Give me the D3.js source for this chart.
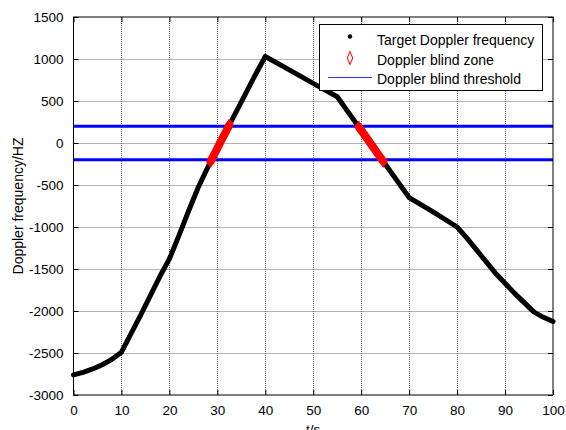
<!DOCTYPE html>
<html><head><meta charset="utf-8">
<script src="https://cdn.jsdelivr.net/npm/d3@7"></script>
<style>
html,body{margin:0;padding:0;background:#fff;}
text{font-family:"Liberation Sans",Arial,sans-serif;fill:#000;}
</style></head>
<body>
<svg id="chart" width="566" height="430"></svg>
<script>
// ---- data ----
const timeValues = [0,2,4,6,8,10,12,14,16,18,20,22,24,26,28,30,32,34,36,38,40,45,50,55,60,65,70,75,80,82,84,86,88,90,92,94,96,98,100];
const freqValues = [-2760,-2730,-2690,-2640,-2575,-2490,-2270,-2050,-1820,-1590,-1380,-1100,-810,-530,-290,-60,160,380,600,820,1030,870,710,550,150,-250,-650,-820,-1000,-1130,-1270,-1410,-1550,-1670,-1790,-1900,-2010,-2075,-2125];
const blindZone1T = [28.6,29.3,29.9,30.5,31.1,31.7,32.5];
const blindZone1F = [-220,-140,-75,-5,60,125,215];
const blindZone2T = [59.5,60.4,61.2,62.0,62.8,63.6,64.6];
const blindZone2F = [190,120,55,-10,-75,-140,-220];
const thresholdValues = [200,-200];
const xTicks = [0,10,20,30,40,50,60,70,80,90,100];
const yTicks = [-3000,-2500,-2000,-1500,-1000,-500,0,500,1000,1500];
const legendLabels = ["Target Doppler frequency","Doppler blind zone","Doppler blind threshold"];
const xLabel = "t/s";
const yLabel = "Doppler frequency/HZ";

// ---- layout ----
const L = 73.5, R = 553, T = 17, B = 395;
const svg = d3.select("#chart");
const x = d3.scaleLinear().domain([0,100]).range([L,R]);
const y = d3.scaleLinear().domain([-3000,1500]).range([B,T]);

// grid
const grid = svg.append("g").attr("stroke","#666").attr("stroke-width",1).attr("stroke-dasharray","1,1");
grid.selectAll("line.gx").data(xTicks.slice(1,-1)).join("line")
  .attr("x1",d=>Math.round(x(d))+0.5).attr("x2",d=>Math.round(x(d))+0.5).attr("y1",T).attr("y2",B);
grid.selectAll("line.gy").data(yTicks.slice(1,-1)).join("line")
  .attr("y1",d=>Math.round(y(d))+0.5).attr("y2",d=>Math.round(y(d))+0.5).attr("x1",L).attr("x2",R);

// axes (MATLAB style ticks inside)
const tick = 5;
const fmt = d => String(d);
const xAxisB = d3.axisBottom(x).tickValues(xTicks).tickSizeInner(-tick).tickSizeOuter(0).tickPadding(10).tickFormat(fmt);
const xAxisT = d3.axisTop(x).tickValues(xTicks).tickSizeInner(-tick).tickSizeOuter(0).tickFormat("");
const yAxisL = d3.axisLeft(y).tickValues(yTicks).tickSizeInner(-tick).tickSizeOuter(0).tickPadding(10).tickFormat(fmt);
const yAxisR = d3.axisRight(y).tickValues(yTicks).tickSizeInner(-tick).tickSizeOuter(0).tickFormat("");
function style(g){
  g.select(".domain").remove();
  g.selectAll("line").attr("stroke","#000");
  g.selectAll("text").attr("font-size","13.5px").attr("font-family","Liberation Sans, Arial, sans-serif").attr("fill","#000");
}
svg.append("g").attr("transform",`translate(0,${B})`).call(xAxisB).call(style);
svg.append("g").attr("transform",`translate(0,${T})`).call(xAxisT).call(style);
svg.append("g").attr("transform",`translate(${L},0)`).call(yAxisL).call(style);
svg.append("g").attr("transform",`translate(${R},0)`).call(yAxisR).call(style);

// threshold lines
svg.append("g").selectAll("line").data(thresholdValues).join("line")
  .attr("x1",L).attr("x2",R).attr("y1",d=>y(d)).attr("y2",d=>y(d))
  .attr("stroke","#0000ff").attr("stroke-width",3);

// main curve
const curveData = timeValues.map((t,i)=>[t,freqValues[i]]);
const line = d3.line().x(d=>x(d[0])).y(d=>y(d[1]));
svg.append("path").datum(curveData).attr("d",line)
  .attr("fill","none").attr("stroke","#000").attr("stroke-width",5)
  .attr("stroke-linejoin","round").attr("stroke-linecap","round");

// blind zones
const zones = [blindZone1T.map((t,i)=>[t,blindZone1F[i]]), blindZone2T.map((t,i)=>[t,blindZone2F[i]])];
const zg = svg.append("g");
zg.selectAll("path.band").data(zones).join("path").attr("d",line)
  .attr("fill","none").attr("stroke","#ff0000").attr("stroke-width",8)
  .attr("stroke-linejoin","round").attr("stroke-linecap","round");
const diamond = d3.symbol().type(d3.symbolDiamond).size(40);
zg.selectAll("path.dm").data(zones.flat()).join("path")
  .attr("d",diamond).attr("transform",d=>`translate(${x(d[0])},${y(d[1])})`)
  .attr("fill","#ff0000").attr("stroke","#ff0000").attr("stroke-width",1);

// axis frame
svg.append("rect").attr("x",L).attr("y",T).attr("width",R-L).attr("height",B-T)
  .attr("fill","none").attr("stroke","#000").attr("stroke-width",1);

// axis labels
svg.append("text").attr("x",(L+R)/2).attr("y",434).attr("text-anchor","middle").attr("font-size","13.5px").text(xLabel);
svg.append("text").attr("transform",`translate(23,${(T+B)/2}) rotate(-90)`).attr("text-anchor","middle").attr("font-size","14px").text(yLabel);

// legend
const lg = svg.append("g");
lg.append("rect").attr("x",319.5).attr("y",24.5).attr("width",223).attr("height",66)
  .attr("fill","#fff").attr("stroke","#000").attr("stroke-width",1);
lg.append("circle").attr("cx",350).attr("cy",36.5).attr("r",2.2).attr("fill","#000");
lg.append("path").attr("d",d3.symbol().type(d3.symbolDiamond).size(40)()).attr("transform","translate(350,58) scale(0.8,1.1)")
  .attr("fill","none").attr("stroke","#ff0000").attr("stroke-width",1.2);
lg.append("line").attr("x1",328).attr("x2",372).attr("y1",77.5).attr("y2",77.5).attr("stroke","#3030ff").attr("stroke-width",1);
lg.selectAll("text").data(legendLabels).join("text")
  .attr("x",377).attr("y",(d,i)=>45+i*19.7).attr("font-size","14px").text(d=>d);
</script>
</body></html>
